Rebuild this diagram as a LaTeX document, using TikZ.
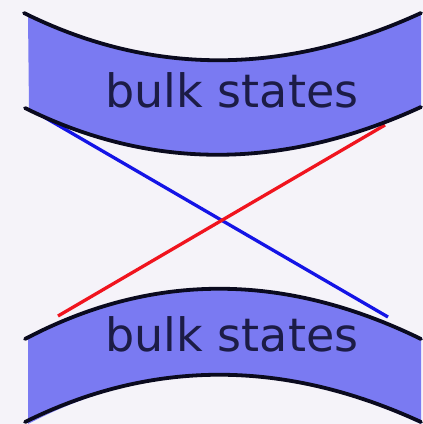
\documentclass[tikz,border=0pt]{standalone}
\usepackage{fontspec}
\setmainfont{DejaVu Sans}
\definecolor{bg}{RGB}{245,243,249}
\definecolor{band}{RGB}{122,122,242}
\definecolor{edge}{RGB}{10,10,30}
\definecolor{txt}{RGB}{28,28,70}
\definecolor{lblue}{RGB}{20,20,230}
\definecolor{lred}{RGB}{240,20,30}
\tikzset{
  bandfill/.style={fill=band, draw=none},
  bandedge/.style={draw=edge, line width=3.8pt, line cap=round},
  label/.style={font=\fontsize{46}{46}\selectfont, text=txt, inner sep=0pt, anchor=base},
  level/.style={line width=3.3pt}
}
\begin{document}
\begin{tikzpicture}[x=1pt,y=-1pt]
\useasboundingbox (0,0) rectangle (423,424);
\fill[bg] (0,0) rectangle (423,424);
% upper band
\path[bandfill] (28,15) .. controls (153,77) and (284,76) .. (421,13)
  -- (421,107) .. controls (284,170) and (152,171) .. (29,110) -- cycle;
% lower band
\path[bandfill] (28,338) .. controls (152,272) and (284,272) .. (421,339)
  -- (421,424) .. controls (284,359) and (152,359) .. (28,424) -- cycle;
% levels
\coordinate (b1) at (44,117);
\coordinate (b2) at (388,317);
\coordinate (r1) at (58,316);
\coordinate (r2) at (385,125);
\draw[level, lblue] (b1) -- (b2);
\draw[level, lred] (r1) -- (r2);
% edges
\draw[bandedge] (24,13) .. controls (151,76) and (284,76) .. (421,13);
\draw[bandedge] (25,108) .. controls (152,171) and (284,170) .. (421,107);
\draw[bandedge] (25,339) .. controls (152,272) and (284,272) .. (421,339);
\draw[bandedge] (25,422) .. controls (152,359) and (284,359) .. (421,422);
\node[label] (top) at (232,107) {bulk states};
\node[label] (bot) at (232,351) {bulk states};
\end{tikzpicture}
\end{document}
